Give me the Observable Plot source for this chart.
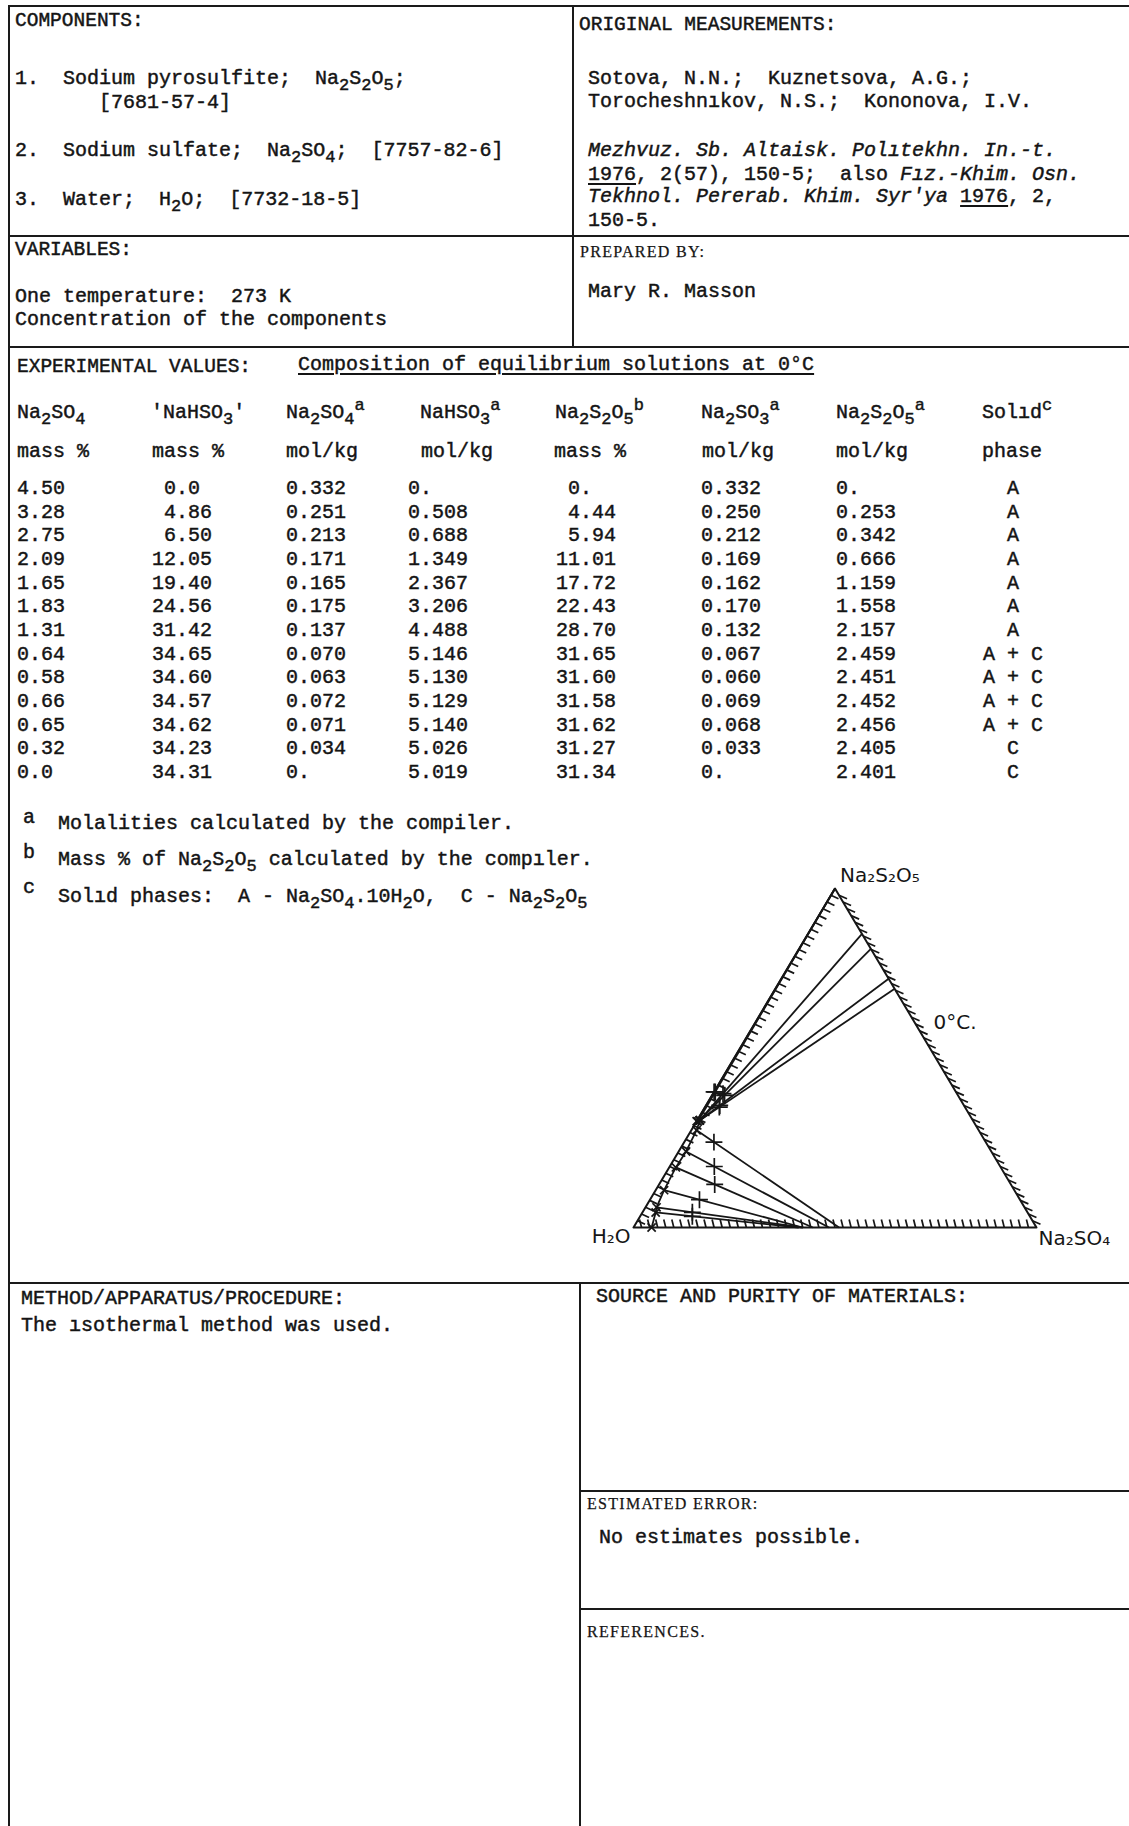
<!DOCTYPE html>
<html><head><meta charset="utf-8">
<script src="https://cdn.jsdelivr.net/npm/d3@7"></script>
<script src="https://cdn.jsdelivr.net/npm/@observablehq/plot@0.6"></script>
<style>
html,body{margin:0;padding:0;background:#fff;}
#page{position:relative;width:1129px;height:1826px;overflow:hidden;font-family:"Liberation Mono","DejaVu Sans Mono",monospace;color:#141414;}
.hl{position:absolute;height:2px;background:#1a1a1a;}
.vl{position:absolute;width:2px;background:#1a1a1a;}
.t{position:absolute;white-space:pre;font-size:20px;line-height:24px;-webkit-text-stroke:0.45px #141414;}
.hd{font-size:19.5px;}
.sm{font-family:"Liberation Serif","DejaVu Serif",serif;font-size:16px;letter-spacing:1.3px;-webkit-text-stroke:0.25px #141414;}
.sb{font-size:0.85em;vertical-align:-0.34em;line-height:0;}
.sp{font-size:0.85em;vertical-align:0.5em;line-height:0;}
.u{text-decoration:underline;text-underline-offset:3px;text-decoration-thickness:1.5px;}
.i{font-style:italic;}
#diagram{position:absolute;left:583px;top:845px;}
</style></head><body><div id="page"><div id="diagram"></div></div>
<script>
// ---------------- data ----------------
const colNames = ["Na2SO4", "'NaHSO3'", "Na2SO4", "NaHSO3", "Na2S2O5", "Na2SO3", "Na2S2O5", "Solıd"];
const colNotes = ["", "", "a", "a", "b", "a", "a", "c"];
const colUnits = ["mass %", "mass %", "mol/kg", "mol/kg", "mass %", "mol/kg", "mol/kg", "phase"];
const na2so4Mass  = ["4.50","3.28","2.75","2.09","1.65","1.83","1.31","0.64","0.58","0.66","0.65","0.32","0.0"];
const nahso3Mass  = ["0.0","4.86","6.50","12.05","19.40","24.56","31.42","34.65","34.60","34.57","34.62","34.23","34.31"];
const na2so4Mol   = ["0.332","0.251","0.213","0.171","0.165","0.175","0.137","0.070","0.063","0.072","0.071","0.034","0."];
const nahso3Mol   = ["0.","0.508","0.688","1.349","2.367","3.206","4.488","5.146","5.130","5.129","5.140","5.026","5.019"];
const na2s2o5Mass = ["0.","4.44","5.94","11.01","17.72","22.43","28.70","31.65","31.60","31.58","31.62","31.27","31.34"];
const na2so3Mol   = ["0.332","0.250","0.212","0.169","0.162","0.170","0.132","0.067","0.060","0.069","0.068","0.033","0."];
const na2s2o5Mol  = ["0.","0.253","0.342","0.666","1.159","1.558","2.157","2.459","2.451","2.452","2.456","2.405","2.401"];
const solidPhase  = ["A","A","A","A","A","A","A","A + C","A + C","A + C","A + C","C","C"];

// tie lines (mass %), one per solution row (none for row 0)
const tieEndNa2SO4   = [null, 41.0, 42.0, 42.0, 44.5, 48.5, 51.0, 13.4, 17.8, 26.6, 29.6, 0, 0];
const tieEndNa2S2O5  = [null, 0, 0, 0, 0, 0, 0, 86.6, 82.2, 73.4, 70.4, 100, 100];
const residueNa2SO4  = [null, 12.95, 12.36, 12.27, 13.8, 11.05, 7.36, 2.46, 3.10, 3.40, 3.55, 0.28, 0];
const residueNa2S2O5 = [null, 3.3, 4.49, 8.2, 12.7, 18.0, 25.2, 39.5, 39.0, 36.0, 35.5, 40.0, 40.0];
const vertexLabels = ["H₂O", "Na₂SO₄", "Na₂S₂O₅"];
const curveLabel = "0°C.";

// ---------------- page helpers ----------------
const page = document.getElementById("page");
function chem(s){ return s.replace(/([A-Za-z])(\d+)/g, '$1<span class="sb">$2</span>'); }
function put(html, x, cy, cls){ const d=document.createElement("div"); d.className="t "+(cls||""); d.style.left=x+"px"; d.style.top=(cy-12)+"px"; d.innerHTML=html; page.appendChild(d); return d; }
function hline(y,x1,x2){ const d=document.createElement("div"); d.className="hl"; d.style.top=(y-1)+"px"; d.style.left=x1+"px"; d.style.width=(x2-x1)+"px"; page.appendChild(d); }
function vline(x,y1,y2){ const d=document.createElement("div"); d.className="vl"; d.style.left=(x-1)+"px"; d.style.top=y1+"px"; d.style.height=(y2-y1)+"px"; page.appendChild(d); }

// frame
hline(6, 8, 1129); vline(9, 6, 1826);
vline(573, 6, 347);
hline(236, 8, 1129); hline(347, 8, 1129); hline(1283, 8, 1129);
vline(580, 1283, 1826);
hline(1491, 580, 1129); hline(1609, 580, 1129);

// top boxes
put("COMPONENTS:", 15, 21, "hd");
put(chem("1.  Sodium pyrosulfite;  Na2S2O5;"), 15, 79);
put("       [7681-57-4]", 15, 103);
put(chem("2.  Sodium sulfate;  Na2SO4;  [7757-82-6]"), 15, 151);
put(chem("3.  Water;  H2O;  [7732-18-5]"), 15, 200);

put("ORIGINAL MEASUREMENTS:", 579, 25, "hd");
put("Sotova, N.N.;  Kuznetsova, A.G.;", 588, 79);
put("Torocheshnıkov, N.S.;  Kononova, I.V.", 588, 102);
put('<span class="i">Mezhvuz. Sb. Altaisk. Polıtekhn. In.-t.</span>', 588, 151);
put('<span class="u">1976</span>, 2(57), 150-5;  also <span class="i">Fız.-Khim. Osn.</span>', 588, 175);
put('<span class="i">Tekhnol. Pererab. Khim. Syr\'ya</span> <span class="u">1976</span>, 2,', 588, 197);
put("150-5.", 588, 221);

put("VARIABLES:", 15, 250, "hd");
put("One temperature:  273 K", 15, 297);
put("Concentration of the components", 15, 320);
put("PREPARED BY:", 580, 252, "sm");
put("Mary R. Masson", 588, 292);

// experimental values
put("EXPERIMENTAL VALUES:", 17, 367, "hd");
put('<span class="u">Composition of equilibrium solutions at 0°C</span>', 298, 365);

const headX = [17, 151, 286, 420, 555, 701, 836, 982];
const unitX = [17, 152, 286, 421, 554, 702, 836, 982];
colNames.forEach((n,i)=>{
  const note = colNotes[i] ? '<span class="sp">'+colNotes[i]+'</span>' : "";
  put(chem(n)+note, headX[i], 413);
});
colUnits.forEach((u,i)=> put(u, unitX[i], 452));

function decAlign(s, w){ const k=s.indexOf("."); const n = k<0 ? s.length : k; return " ".repeat(Math.max(0,w-n))+s; }
const rowY = i => 489 + i*23.65;
na2so4Mass.forEach((v,i)=>{
  const y = rowY(i);
  put(v, 17, y);
  put(decAlign(nahso3Mass[i],2), 152, y);
  put(na2so4Mol[i], 286, y);
  put(nahso3Mol[i], 408, y);
  put(decAlign(na2s2o5Mass[i],2), 556, y);
  put(na2so3Mol[i], 701, y);
  put(na2s2o5Mol[i], 836, y);
  const d = put(solidPhase[i], 1013, y); d.style.transform="translateX(-50%)";
});

// footnotes
put("a", 23, 818);
put("Molalities calculated by the compiler.", 58, 824);
put("b", 23, 853);
put(chem("Mass % of Na2S2O5 calculated by the compıler."), 58, 860);
put("c", 23, 888);
put(chem("Solıd phases:  A - Na2SO4") + ".10H<span class=\"sb\">2</span>O,  " + chem("C - Na2S2O5"), 58, 897);

// bottom boxes
put("METHOD/APPARATUS/PROCEDURE:", 21, 1299);
put("The ısothermal method was used.", 21, 1326);
put("SOURCE AND PURITY OF MATERIALS:", 596, 1297);
put("ESTIMATED ERROR:", 587, 1504, "sm");
put("No estimates possible.", 599, 1538);
put("REFERENCES.", 587, 1632, "sm");

// ---------------- ternary diagram (Observable Plot) ----------------
const W = 546, H = 420, mL = 50, mR = 93, mT = 43, mB = 38;
const kx = W - mL - mR, ky = H - mT - mB;   // pixels per unit
const tern = (a, b) => ({X: a + b/2, Y: b});

const liquids = na2so4Mass.map((s,i)=> tern(+s/100, +na2s2o5Mass[i]/100));
const ties = [], residues = [];
tieEndNa2SO4.forEach((e,i)=>{
  if (e == null) return;
  const L = liquids[i], E = tern(e/100, tieEndNa2S2O5[i]/100);
  ties.push({x1:L.X, y1:L.Y, x2:E.X, y2:E.Y});
  residues.push(tern(residueNa2SO4[i]/100, residueNa2S2O5[i]/100));
});
const verts = [tern(0,0), tern(1,0), tern(0,1)];
const loop = [...verts, verts[0]];

const ticks = [];
d3.range(2, 100, 2).forEach(p=>{
  const f = p/100;
  const b0 = tern(f, 0);            // base
  ticks.push({x1:b0.X, y1:b0.Y, x2:b0.X - 2/kx, y2:b0.Y + 8/ky});
  const l = tern(0, f);             // H2O - Na2S2O5 edge
  ticks.push({x1:l.X, y1:l.Y, x2:l.X + 7.5/kx, y2:l.Y - 3.5/ky});
  const r = tern(1-f, f);           // Na2SO4 - Na2S2O5 edge
  ticks.push({x1:r.X, y1:r.Y, x2:r.X + 8/kx, y2:r.Y - 3.5/ky});
});
const tempAnchor = [tern(0.395, 0.605)];

const ink = "#161616";
const font = {fontFamily:"DejaVu Sans, sans-serif", fontSize:20, fill:ink};
const chart = Plot.plot({
  width: W, height: H,
  marginLeft: mL, marginRight: mR, marginTop: mT, marginBottom: mB,
  x: {domain:[0,1], axis:null},
  y: {domain:[0,1], axis:null},
  style: {background:"transparent", overflow:"visible"},
  marks: [
    Plot.link(ticks, {x1:"x1", y1:"y1", x2:"x2", y2:"y2", stroke:ink, strokeWidth:1.7}),
    Plot.line(loop, {x:"X", y:"Y", stroke:ink, strokeWidth:2}),
    Plot.line(liquids, {x:"X", y:"Y", stroke:ink, strokeWidth:1.8}),
    Plot.link(ties, {x1:"x1", y1:"y1", x2:"x2", y2:"y2", stroke:ink, strokeWidth:1.8}),
    Plot.dot(residues, {x:"X", y:"Y", symbol:"plus", r:5.5, stroke:ink, strokeWidth:1.7}),
    Plot.dot(liquids, {x:"X", y:"Y", symbol:"times", r:3.8, stroke:ink, strokeWidth:1.7}),
    Plot.text([verts[0]], {x:"X", y:"Y", text:()=>vertexLabels[0], textAnchor:"end", dx:-3, dy:9, ...font}),
    Plot.text([verts[1]], {x:"X", y:"Y", text:()=>vertexLabels[1], textAnchor:"start", dx:2, dy:11, ...font}),
    Plot.text([verts[2]], {x:"X", y:"Y", text:()=>vertexLabels[2], textAnchor:"start", dx:5, dy:-13, ...font}),
    Plot.text(tempAnchor, {x:"X", y:"Y", text:()=>curveLabel, textAnchor:"start", dx:19, dy:0, ...font})
  ]
});
document.getElementById("diagram").appendChild(chart);
</script>
</body></html>
